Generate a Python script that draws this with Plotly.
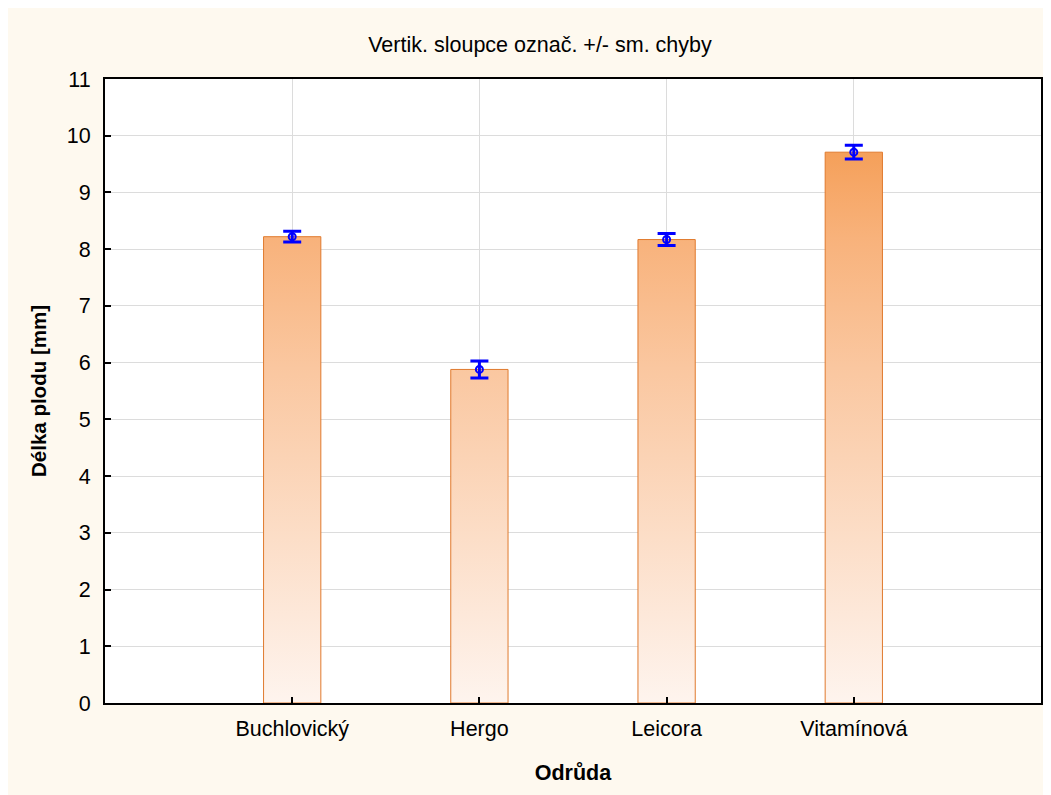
import plotly.graph_objects as go

categories = ["Buchlovický", "Hergo", "Leicora", "Vitamínová"]
means = [8.22, 5.88, 8.17, 9.71]
sem = [0.095, 0.15, 0.105, 0.12]
y_ticks = list(range(0, 12))

BAR_HALF = 0.153
W, H = 1051, 795
L, R, T, B = 97, 18, 71, 100

fig = go.Figure()

# gradient bars (polygons built from data values)
xs, ys = [], []
for i, m in enumerate(means):
    xs += [i - BAR_HALF, i - BAR_HALF, i + BAR_HALF, i + BAR_HALF, i - BAR_HALF, None]
    ys += [0, m, m, 0, 0, None]
fig.add_trace(go.Scatter(
    x=xs, y=ys, mode="lines", fill="toself",
    line=dict(color="#E07A2E", width=1),
    fillgradient=dict(
        type="vertical", start=0, stop=11,
        colorscale=[[0, "#FEF4EE"], [5.9 / 11, "#FAC7A0"], [8.2 / 11, "#F8B27B"],
                    [9.7 / 11, "#F5A05A"], [1, "#F39446"]],
    ),
    hoverinfo="skip", showlegend=False,
))

# means with standard error
fig.add_trace(go.Scatter(
    x=list(range(len(categories))), y=means, mode="markers",
    marker=dict(symbol="circle-open", size=7, color="#0000FF", line=dict(width=2, color="#0000FF")),
    error_y=dict(type="data", array=sem, visible=True, color="#0000FF", thickness=3, width=9),
    showlegend=False,
))

font_family = "Liberation Sans, Arial, sans-serif"

fig.update_layout(
    width=W, height=H,
    autosize=False,
    margin=dict(l=L, r=R, t=T, b=B, pad=0),
    paper_bgcolor="#FEF9EF",
    plot_bgcolor="#FFFFFF",
    font=dict(family=font_family, size=21.5, color="#000000"),
    showlegend=False,
    title=dict(text="Vertik. sloupce označ. +/- sm. chyby", x=532 / W, xanchor="center",
               y=1 - 36 / H, yanchor="middle", yref="container",
               font=dict(size=21.5, family=font_family, color="#000000")),
    xaxis=dict(
        range=[-1, 4], tickmode="array", tickvals=list(range(len(categories))), ticktext=categories,
        showgrid=True, gridcolor="#DCDCDC", gridwidth=1, zeroline=False,
        showline=True, linecolor="#000000", linewidth=2, mirror=True,
        ticks="inside", ticklen=6, tickwidth=2, tickcolor="#000000",
        tickfont=dict(size=21.5), ticklabelstandoff=5,
        title=dict(text="<b>Odrůda</b>", font=dict(size=21.5), standoff=25),
    ),
    yaxis=dict(
        range=[0, 11], tickmode="array", tickvals=y_ticks,
        showgrid=True, gridcolor="#DCDCDC", gridwidth=1, zeroline=False,
        showline=True, linecolor="#000000", linewidth=2, mirror=True,
        ticks="inside", ticklen=6, tickwidth=2, tickcolor="#000000",
        tickfont=dict(size=21.5), ticklabelstandoff=8,
        title=dict(text="<b>Délka plodu [mm]</b>", font=dict(size=20.5), standoff=15),
    ),
)

fig.write_html("out.html", config={"responsive": False},
               post_script="document.body.style.overflow='hidden';")
